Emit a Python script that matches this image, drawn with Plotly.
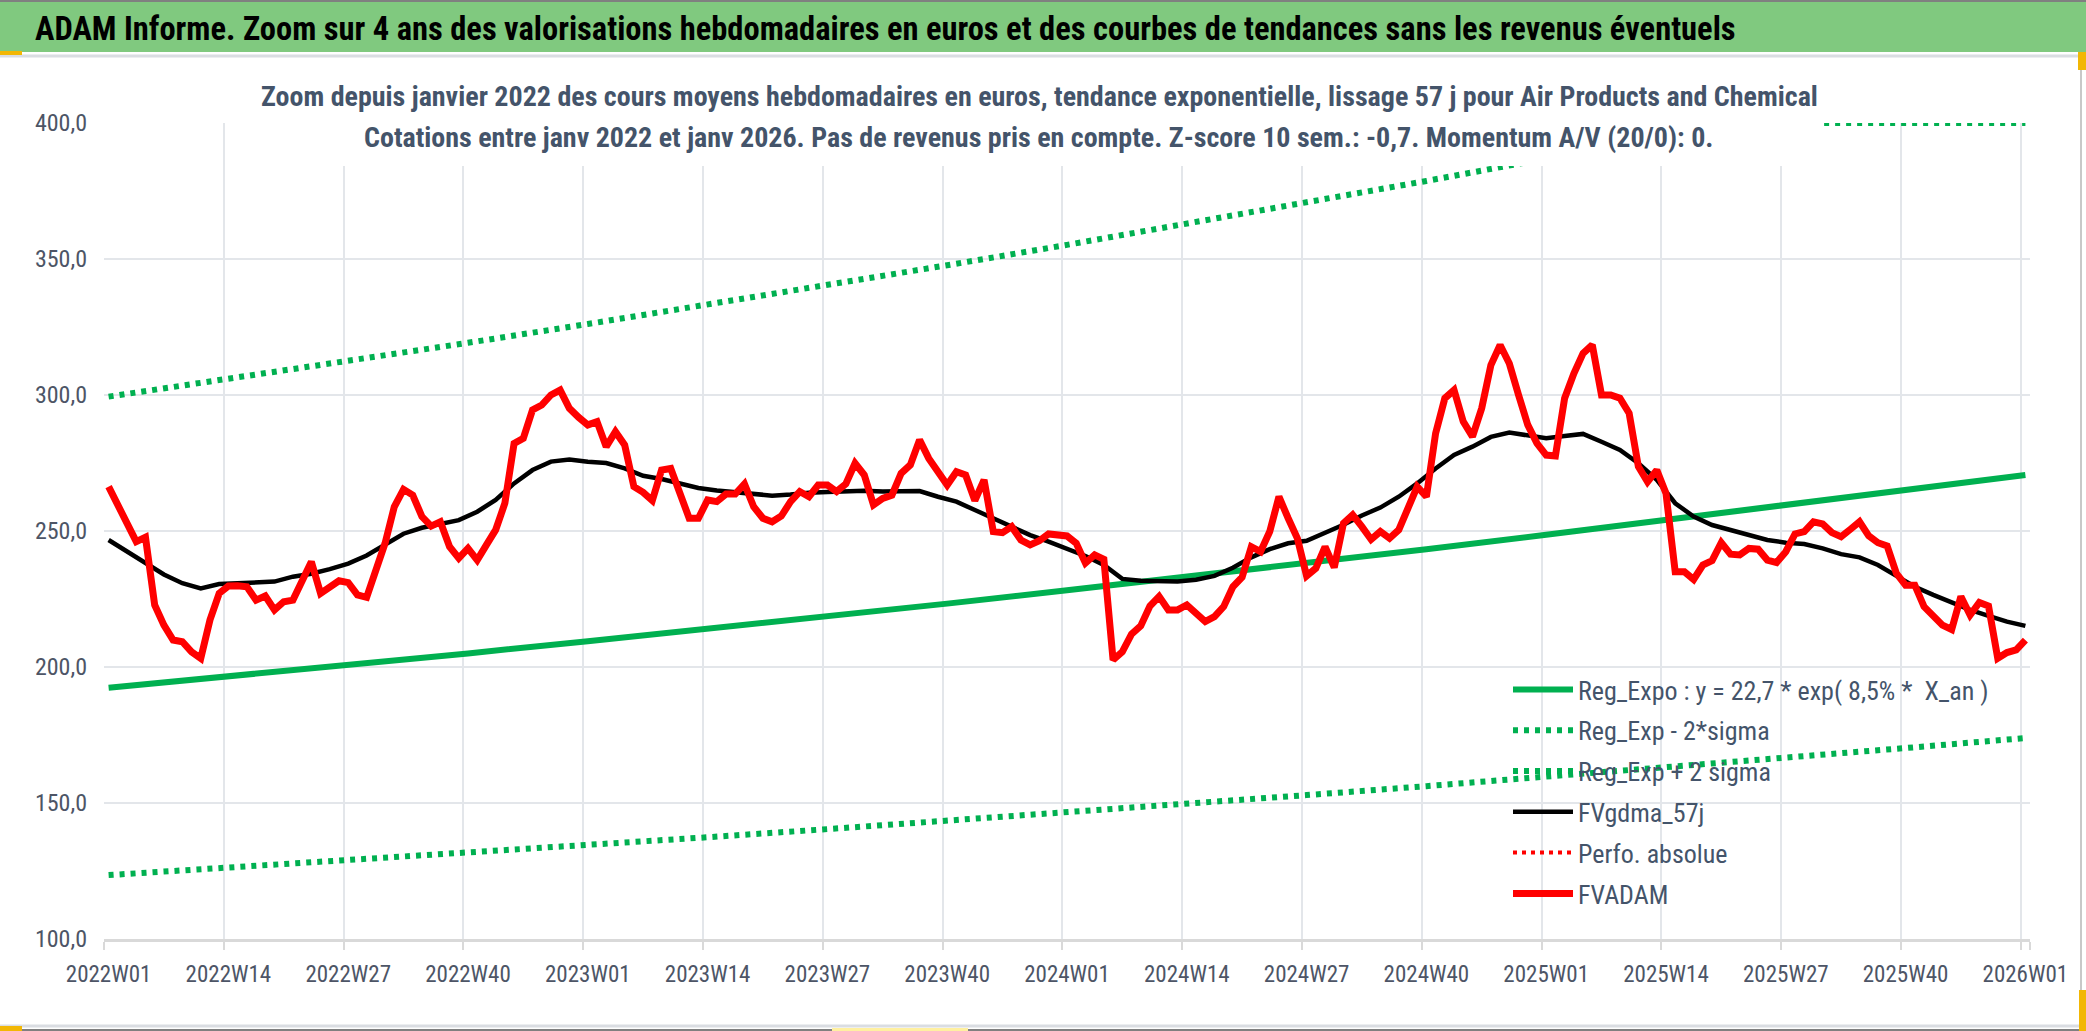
import plotly.graph_objects as go

# weekly categories 2022W01 .. 2026W01
weeks = [f"{y}W{w:02d}" for y in range(2022, 2026) for w in range(1, 53)] + ["2026W01"]
tick_weeks = weeks[::13]

# FVADAM weekly valuation (EUR)
fvadam = [
    266.3, 259.6, 252.8, 246.1, 247.7, 222.8, 215.4, 209.9, 209.3, 205.6,
    203.2, 217.3, 227.1, 229.8, 229.9, 229.5, 224.6, 226.1, 221.0, 224.0,
    224.6, 231.7, 238.7, 227.1, 229.5, 231.7, 231.0, 226.5, 225.6, 235.7,
    245.5, 258.9, 265.3, 263.2, 255.3, 251.8, 253.4, 244.2, 240.0, 243.6,
    239.3, 244.9, 250.4, 260.2, 282.2, 284.1, 294.5, 296.3, 300.0, 301.8,
    295.1, 291.8, 289.0, 290.2, 281.0, 286.5, 281.6, 266.3, 264.2, 261.2,
    272.4, 273.0, 263.8, 254.7, 254.7, 261.4, 260.8, 263.6, 263.6, 267.3,
    258.9, 254.7, 253.4, 255.5, 260.8, 264.5, 262.6, 266.9, 266.9, 264.5,
    267.3, 274.9, 270.6, 259.6, 262.0, 263.2, 271.2, 274.3, 283.5, 276.7,
    271.8, 266.9, 271.8, 270.6, 261.2, 268.8, 249.8, 249.4, 251.6, 246.7,
    244.9, 246.4, 248.9, 248.5, 248.2, 245.5, 238.2, 241.2, 239.6, 202.6,
    205.6, 212.1, 215.1, 222.4, 225.9, 221.0, 221.0, 222.8, 219.7, 216.7,
    218.5, 222.2, 229.5, 233.0, 244.2, 242.4, 249.8, 262.6, 254.7, 247.3,
    233.5, 236.3, 244.2, 236.6, 252.8, 255.9, 251.6, 246.9, 249.8, 247.3,
    250.4, 258.9, 266.3, 262.6, 285.9, 298.8, 301.8, 290.2, 284.7, 295.1,
    311.0, 318.4, 311.6, 300.0, 289.0, 282.2, 277.9, 277.6, 298.8, 307.9,
    315.3, 318.4, 300.0, 300.0, 298.8, 293.3, 273.7, 268.1, 272.4, 263.8,
    235.0, 235.0, 232.2, 237.5, 239.1, 245.7, 241.5, 241.2, 243.6, 243.3,
    239.3, 238.4, 242.4, 248.9, 249.8, 253.4, 252.6, 249.4, 247.9, 250.6,
    253.4, 248.2, 245.7, 244.5, 234.4, 230.1, 230.1, 222.2, 218.5, 215.4,
    213.8, 225.9, 219.1, 223.7, 222.4, 203.2, 205.3, 206.3, 209.9,
]

# FVgdma_57j smoothed curve, read every second week
gdma_weeks = weeks[::2]
gdma = [
    246.7, 242.5, 238.5, 234.0, 230.8, 228.9, 230.5, 230.7, 230.9, 231.4,
    233.2, 234.3, 236.0, 238.0, 241.0, 245.0, 249.0, 251.2, 252.8, 254.0,
    257.1, 261.4, 267.5, 272.4, 275.5, 276.3, 275.5, 275.0, 273.0, 270.3,
    269.1, 267.5, 265.8, 264.9, 264.3, 263.5, 263.0, 263.4, 264.1, 264.3,
    264.6, 264.8, 264.5, 264.6, 264.7, 262.6, 260.8, 257.7, 254.7, 251.6,
    248.5, 246.1, 243.5, 240.8, 237.5, 232.4, 231.7, 231.4, 231.4, 232.1,
    233.5, 236.5, 240.3, 243.3, 245.5, 246.4, 249.3, 252.3, 255.7, 258.6,
    262.6, 267.5, 273.0, 278.0, 281.0, 284.6, 286.2, 285.1, 284.1, 284.9,
    285.7, 282.8, 279.8, 274.9, 268.8, 260.2, 255.3, 252.2, 250.4, 248.5,
    246.7, 245.7, 245.2, 243.6, 241.5, 240.3, 237.5, 233.5, 229.5, 226.5,
    223.7, 221.0, 218.8, 216.7, 215.1,
]

# trend lines read at each labelled week (upper band is cut at the axis top)
reg_expo = [192.4, 196.5, 200.6, 205.0, 209.5, 214.0, 218.6, 223.3, 228.2,
            233.1, 238.1, 243.3, 248.6, 254.0, 259.5, 265.1, 270.6]
reg_low = [123.5, 126.2, 128.9, 131.7, 134.5, 137.4, 140.4, 143.4, 146.5,
           149.7, 152.9, 156.2, 159.6, 163.0, 166.6, 170.2, 173.9]
reg_high = [299.4, 305.9, 312.5, 319.2, 326.1, 333.2, 340.4, 347.7, 355.2,
            362.9, 370.7, 378.7, 386.9, 395.2, 400.0, 400.0, 400.0]
perfo = []

title = "ADAM Informe. Zoom sur 4 ans des valorisations hebdomadaires en euros et des courbes de tendances sans les revenus éventuels"
sub1 = "Zoom depuis janvier 2022 des cours moyens hebdomadaires en euros, tendance exponentielle, lissage 57 j pour Air Products and Chemical"
sub2 = "Cotations entre janv 2022 et janv 2026. Pas de revenus pris en compte. Z-score 10 sem.: -0,7. Momentum A/V (20/0): 0."

W, H = 2086, 1031
L, R, T, B = 104, 2030, 123, 939
FONT = "Liberation Sans Narrow, Roboto Condensed, Roboto, sans-serif"
GREEN = "#00B050"
TXT = "#44546A"


def px(x):
    return (x - L) / (R - L)


def py(y):
    return (B - y) / (B - T)


def box(x0, y0, x1, y1, color, layer="above"):
    return dict(type="rect", xref="paper", yref="paper", layer=layer,
                x0=px(x0), x1=px(x1), y0=py(y1), y1=py(y0),
                fillcolor=color, line=dict(width=0))


fig = go.Figure()
fig.add_trace(go.Scatter(x=tick_weeks, y=reg_expo, mode="lines", name="Reg_Expo : y = 22,7 * exp( 8,5% *  X_an )",
                         line=dict(color=GREEN, width=6), legendgroup="a"))
fig.add_trace(go.Scatter(x=tick_weeks, y=reg_low, mode="lines", name="Reg_Exp - 2*sigma",
                         line=dict(color=GREEN, width=6, dash="5px,6px"), legendgroup="b"))
fig.add_trace(go.Scatter(x=tick_weeks, y=reg_high, mode="lines", name="Reg_Exp + 2 sigma",
                         line=dict(color=GREEN, width=6, dash="5px,6px"), legendgroup="c"))
fig.add_trace(go.Scatter(x=gdma_weeks, y=gdma, mode="lines", name="FVgdma_57j",
                         line=dict(color="black", width=4.5), legendgroup="d"))
fig.add_trace(go.Scatter(x=weeks[:1], y=[None] if not perfo else perfo, mode="lines", name="Perfo. absolue",
                         line=dict(color="#FF0000", width=4, dash="4px,5px"), legendgroup="e"))
fig.add_trace(go.Scatter(x=weeks, y=fvadam, mode="lines", name="FVADAM",
                         line=dict(color="#FF0000", width=7), legendgroup="f"))

shapes = [
    box(0, 0, W, 52, "#80C97F"),
    dict(type="line", xref="paper", yref="paper", x0=px(0), x1=px(W), y0=py(1), y1=py(1),
         line=dict(color="#808080", width=2)),
    dict(type="line", xref="paper", yref="paper", x0=px(0), x1=px(W), y0=py(56), y1=py(56),
         line=dict(color="#DADDE2", width=3)),
    box(256, 62, 1821, 166, "white"),
    dict(type="line", xref="paper", yref="paper", x0=px(2081), x1=px(2081), y0=py(58), y1=py(H),
         line=dict(color="#C8C8C8", width=2)),
    dict(type="line", xref="paper", yref="paper", x0=px(0), x1=px(W), y0=py(1026), y1=py(1026),
         line=dict(color="#DADDE2", width=3)),
    dict(type="line", xref="paper", yref="paper", x0=px(0), x1=px(W), y0=py(1030), y1=py(1030),
         line=dict(color="#808080", width=2)),
    box(0, 51, 22, 55, "#F2B705"),
    box(2078, 52, W, 70, "#F2B705"),
    box(0, 1026, 22, H, "#F2B705"),
    box(2079, 990, W, H, "#F2B705"),
    box(832, 1028, 968, H, "#FFF0A0"),
]

annotations = [
    dict(text=title, xref="paper", yref="paper", x=px(33), y=py(29), xanchor="left", yanchor="middle",
         showarrow=False, font=dict(family=FONT, size=32.5, color="black", weight="bold")),
    dict(text=sub1, xref="paper", yref="paper", x=px(1039), y=py(97), xanchor="center", yanchor="middle",
         showarrow=False, font=dict(family=FONT, size=28, color=TXT, weight="bold")),
    dict(text=sub2, xref="paper", yref="paper", x=px(1038), y=py(137), xanchor="center", yanchor="middle",
         showarrow=False, font=dict(family=FONT, size=28, color=TXT, weight="bold")),
]

fig.update_layout(
    width=W, height=H,
    margin=dict(l=L, r=W - R, t=T, b=H - B),
    paper_bgcolor="white", plot_bgcolor="white",
    separators=", ",
    font=dict(family=FONT, color=TXT),
    shapes=shapes, annotations=annotations,
    showlegend=True,
    legend=dict(x=px(1508), y=py(666), xanchor="left", yanchor="top",
                bgcolor="rgba(0,0,0,0)", font=dict(family=FONT, size=26, color=TXT),
                tracegroupgap=4, itemwidth=60),
    xaxis=dict(type="category", categoryorder="array", categoryarray=weeks,
               range=[-0.5, len(weeks) - 0.5], tickmode="array", tickvals=tick_weeks, ticktext=tick_weeks,
               tickson="boundaries", ticks="outside", ticklen=8, tickcolor="#D9D9D9", tickwidth=2,
               tickangle=0, ticklabelstandoff=12, showgrid=True, gridcolor="#E3E6EA", gridwidth=2,
               showline=True, linecolor="#D9D9D9", linewidth=3,
               tickfont=dict(family=FONT, size=23, color="#4D5566"), zeroline=False),
    yaxis=dict(range=[100, 400], dtick=50, tick0=100, tickformat=".1f",
               showgrid=True, gridcolor="#E3E6EA", gridwidth=2, zeroline=False,
               showline=False, ticklabelstandoff=16,
               tickfont=dict(family=FONT, size=24, color="#4D5566")),
)

fig.write_html("out.html", config={"displayModeBar": False},
               post_script="document.body.style.margin='0';document.body.style.overflow='hidden';")
